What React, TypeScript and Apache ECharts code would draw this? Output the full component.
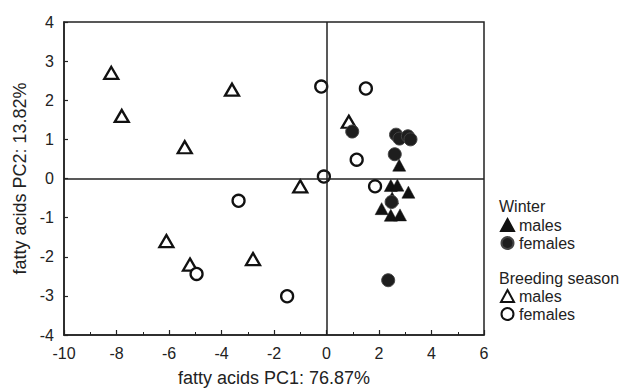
import React, { useEffect, useRef } from "react";
import * as echarts from "echarts";

const winterMalesX = [2.77, 2.45, 2.7, 3.12, 2.1, 2.45, 2.8, 2.5];
const winterMalesY = [0.34, -0.18, -0.17, -0.35, -0.77, -0.94, -0.93, -0.5];
const winterFemalesX = [0.98, 2.65, 2.78, 3.1, 3.2, 2.6, 2.48, 2.35];
const winterFemalesY = [1.2, 1.12, 1.02, 1.08, 1.0, 0.62, -0.6, -2.6];
const breedingMalesX = [-8.2, -7.8, -3.6, -5.4, -1.0, -6.1, -5.2, -2.8, 0.85];
const breedingMalesY = [2.7, 1.6, 2.27, 0.8, -0.2, -1.6, -2.2, -2.06, 1.45];
const breedingFemalesX = [-0.2, 1.5, 1.15, -0.1, 1.85, -3.35, -4.95, -1.5];
const breedingFemalesY = [2.35, 2.3, 0.48, 0.05, -0.2, -0.57, -2.44, -3.01];

const xTitle = "fatty acids PC1: 76.87%";
const yTitle = "fatty acids PC2: 13.82%";

const FONT = "Liberation Sans";
const INK = "#222";

function pts(xs: number[], ys: number[]) {
  return xs.map((x, i) => [x, ys[i]]);
}

export default function App() {
  const ref = useRef<HTMLDivElement>(null);
  useEffect(() => {
    if (!ref.current) return;
    const chart = echarts.init(ref.current, null, { renderer: "svg" });
    const axisCommon = {
      axisLine: { show: true, onZero: false, lineStyle: { color: INK, width: 1.5 } },
      axisTick: { show: true, inside: true, length: 5, lineStyle: { color: INK, width: 1.2 } },
      axisLabel: { color: INK, fontFamily: FONT, fontSize: 16 },
      splitLine: { show: false },
      nameTextStyle: { color: INK, fontFamily: FONT, fontSize: 18 },
    };
    const legendText = { color: INK, fontFamily: FONT, fontSize: 16, lineHeight: 16 };
    chart.setOption({
      animation: false,
      backgroundColor: "#fff",
      grid: {
        left: 64,
        right: 148,
        top: 22,
        bottom: 55,
        show: true,
        borderColor: INK,
        borderWidth: 1.5,
      },
      xAxis: {
        type: "value",
        min: -10,
        max: 6,
        interval: 2,
        name: xTitle,
        nameLocation: "middle",
        nameGap: 34,
        minorTick: { show: true, splitNumber: 2, length: 3, lineStyle: { color: INK, width: 1 } },
        ...axisCommon,
        axisLabel: { ...axisCommon.axisLabel, margin: 10 },
      },
      yAxis: {
        type: "value",
        min: -4,
        max: 4,
        interval: 1,
        name: yTitle,
        nameLocation: "middle",
        nameGap: 34,
        ...axisCommon,
        axisTick: { ...axisCommon.axisTick, length: 4 },
        axisLabel: { ...axisCommon.axisLabel, margin: 10 },
      },
      legend: [
        {
          orient: "vertical",
          left: 495,
          top: 212,
          itemWidth: 13,
          itemHeight: 12,
          itemGap: 2,
          textStyle: legendText,
          data: [
            { name: "Winter males", icon: "triangle" },
            { name: "Winter females", icon: "circle" },
          ],
          formatter: (n: string) => n.split(" ").pop(),
        },
        {
          orient: "vertical",
          left: 495,
          top: 283,
          itemWidth: 13,
          itemHeight: 12,
          itemGap: 2,
          textStyle: legendText,
          data: [
            { name: "Breeding season males", icon: "triangle" },
            { name: "Breeding season females", icon: "circle" },
          ],
          formatter: (n: string) => n.split(" ").pop(),
        },
      ],
      graphic: [
        { type: "text", left: 499, top: 198, style: { text: "Winter", fill: INK, font: `16px ${FONT}` } },
        { type: "text", left: 499, top: 270, style: { text: "Breeding season", fill: INK, font: `16px ${FONT}` } },
      ],
      series: [
        {
          name: "Breeding season males",
          type: "scatter",
          symbol: "triangle",
          symbolSize: [14, 12],
          itemStyle: { color: "#fff", borderColor: "#111", borderWidth: 2.3, opacity: 1 },
          data: pts(breedingMalesX, breedingMalesY),
          markLine: {
            silent: true,
            symbol: "none",
            label: { show: false },
            lineStyle: { color: INK, width: 1.5, type: "solid" },
            data: [{ xAxis: 0 }, { yAxis: 0 }],
          },
        },
        {
          name: "Breeding season females",
          type: "scatter",
          symbol: "circle",
          symbolSize: 12,
          itemStyle: { color: "#fff", borderColor: "#111", borderWidth: 2.3, opacity: 1 },
          data: pts(breedingFemalesX, breedingFemalesY),
        },
        {
          name: "Winter males",
          type: "scatter",
          symbol: "triangle",
          symbolSize: [13, 12],
          itemStyle: { color: "#111", borderColor: "#111", borderWidth: 0.5, opacity: 1 },
          data: pts(winterMalesX, winterMalesY),
        },
        {
          name: "Winter females",
          type: "scatter",
          symbol: "circle",
          symbolSize: 13,
          itemStyle: { color: "#1e1e1e", borderColor: "#444", borderWidth: 1, opacity: 1 },
          data: pts(winterFemalesX, winterFemalesY),
        },
      ],
    });
    return () => chart.dispose();
  }, []);
  return <div ref={ref} style={{ width: 632, height: 392, position: "fixed", left: 0, top: 0, background: "#fff" }} />;
}
